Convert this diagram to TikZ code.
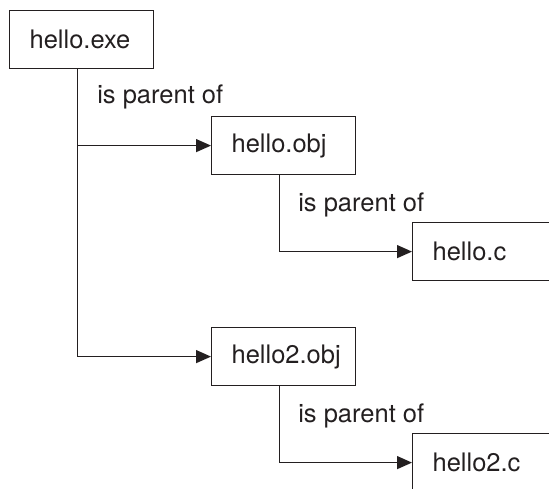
\documentclass[tikz,border=0pt]{standalone}
\usepackage{fontspec}
\setmainfont{TeX Gyre Heros}
\usetikzlibrary{arrows.meta,positioning,calc}
\definecolor{ink}{HTML}{231F20}
\tikzset{
  file/.style={draw=ink, line width=1.2pt, anchor=north west, text width=104pt, align=left,
    inner xsep=20pt, inner ysep=0pt, minimum height=58pt, text=ink,
    font=\fontsize{25.5}{30}\selectfont},
  rel/.style={anchor=base west, inner sep=0pt, text=ink, font=\fontsize{25.5}{30}\selectfont},
  link/.style={-{Triangle[length=15pt, width=13pt]}, draw=ink, line width=1.2pt},
}
\begin{document}
\begin{tikzpicture}[x=1pt, y=-1pt]
  \clip (0,0) rectangle (549,489);
  \node[file] (exe)  at (9,10)    {hello.exe};
  \node[file] (obj)  at (211,116) {hello.obj};
  \node[file] (c)    at (412,222) {hello.c};
  \node[file] (obj2) at (211,327) {hello2.obj};
  \node[file] (c2)   at (412,433) {hello2.c};
  \coordinate (exe-out)  at ([xshift=-4.5pt]exe.south);
  \coordinate (obj-out)  at ([xshift=-4.5pt]obj.south);
  \coordinate (obj2-out) at ([xshift=-4.5pt]obj2.south);
  \node[rel] (r1) at ($(exe-out)+(20,34)$)  {is parent of};
  \node[rel] (r2) at ($(obj-out)+(19,36)$)  {is parent of};
  \node[rel] (r3) at ($(obj2-out)+(19,36)$) {is parent of};
  \draw[link] (exe-out) |- (obj.west);
  \draw[link] (exe-out) |- (obj2.west);
  \draw[link] (obj-out) |- (c.west);
  \draw[link] (obj2-out) |- (c2.west);
\end{tikzpicture}
\end{document}
